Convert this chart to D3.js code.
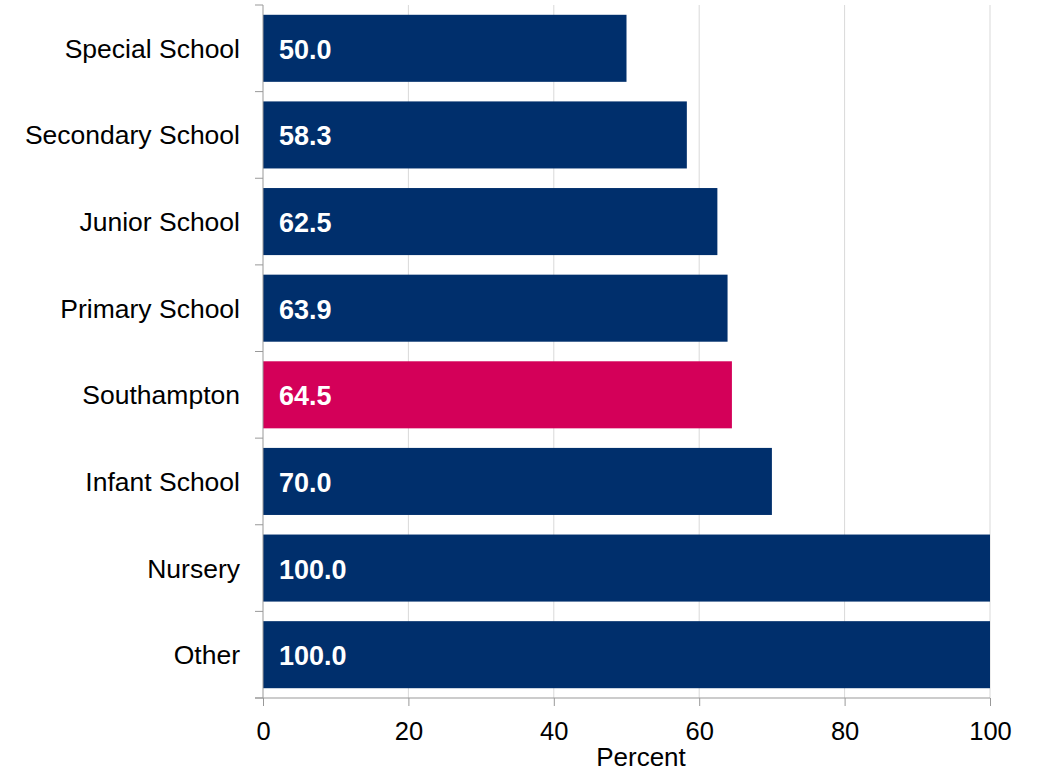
<!DOCTYPE html>
<html><head><meta charset="utf-8">
<script src="https://cdn.jsdelivr.net/npm/d3@7"></script>
<style>body{margin:0;background:#fff;} text{font-family:"Liberation Sans",Arial,sans-serif;}</style>
</head><body>
<svg id="c" width="1041" height="772"></svg>
<script>
const categories = ["Special School","Secondary School","Junior School","Primary School","Southampton","Infant School","Nursery","Other"];
const values = [50.0,58.3,62.5,63.9,64.5,70.0,100.0,100.0];
const highlight = ["Southampton"];
const xTicks = [0,20,40,60,80,100];
const xTitle = "Percent";

const svg = d3.select("#c");
const L = 263, R = 990, T = 5, B = 698;
const x = d3.scaleLinear().domain([0,100]).range([L,R]);
const y = d3.scaleBand().domain(categories).range([T,B]).paddingInner(0.226).paddingOuter(0.113);

// gridlines
svg.append("g").selectAll("line").data(xTicks.filter(d=>d>0)).join("line")
  .attr("x1",d=>x(d)).attr("x2",d=>x(d)).attr("y1",T).attr("y2",B)
  .attr("stroke","#d9d9d9").attr("stroke-width",1);

// bars
svg.append("g").selectAll("rect").data(categories).join("rect")
  .attr("x",x(0)).attr("y",d=>y(d)).attr("height",y.bandwidth())
  .attr("width",(d,i)=>x(values[i])-x(0))
  .attr("fill",d=>highlight.includes(d)?"#d40059":"#002f6c");

// value labels
svg.append("g").selectAll("text").data(categories).join("text")
  .attr("x",x(0)+16).attr("y",d=>y(d)+y.bandwidth()/2+10.5)
  .attr("fill","#fff").attr("font-size",27).attr("font-weight","bold")
  .text((d,i)=>values[i].toFixed(1));

// y axis
const yAxis = svg.append("g").attr("transform",`translate(${L},0)`);
yAxis.append("line").attr("x1",0).attr("x2",0).attr("y1",T).attr("y2",B).attr("stroke","#999");
const bounds = d3.range(categories.length+1).map(i=>T + i*(B-T)/categories.length);
yAxis.selectAll("line.t").data(bounds).join("line").attr("class","t")
  .attr("x1",-8).attr("x2",0).attr("y1",d=>d).attr("y2",d=>d).attr("stroke","#999");
yAxis.selectAll("text").data(categories).join("text")
  .attr("x",-23).attr("y",d=>y(d)+y.bandwidth()/2+9.5)
  .attr("text-anchor","end").attr("font-size",26.5).attr("fill","#000").text(d=>d);

// x axis
const xAxis = svg.append("g").attr("transform",`translate(0,${B})`)
  .call(d3.axisBottom(x).tickValues(xTicks).tickSize(8).tickSizeOuter(0).tickFormat(d3.format("d")));
xAxis.select(".domain").remove();
xAxis.append("line").attr("x1",L-8).attr("x2",R).attr("y1",0).attr("y2",0).attr("stroke","#999");
xAxis.selectAll(".tick line").attr("stroke","#999");
xAxis.selectAll(".tick text").attr("font-size",25.5).attr("fill","#000").attr("dy","31px")
  .style("font-family","Liberation Sans, Arial, sans-serif");

svg.append("text").attr("x",641).attr("y",766).attr("text-anchor","middle")
  .attr("font-size",26).attr("fill","#000").text(xTitle);
</script>
</body></html>
